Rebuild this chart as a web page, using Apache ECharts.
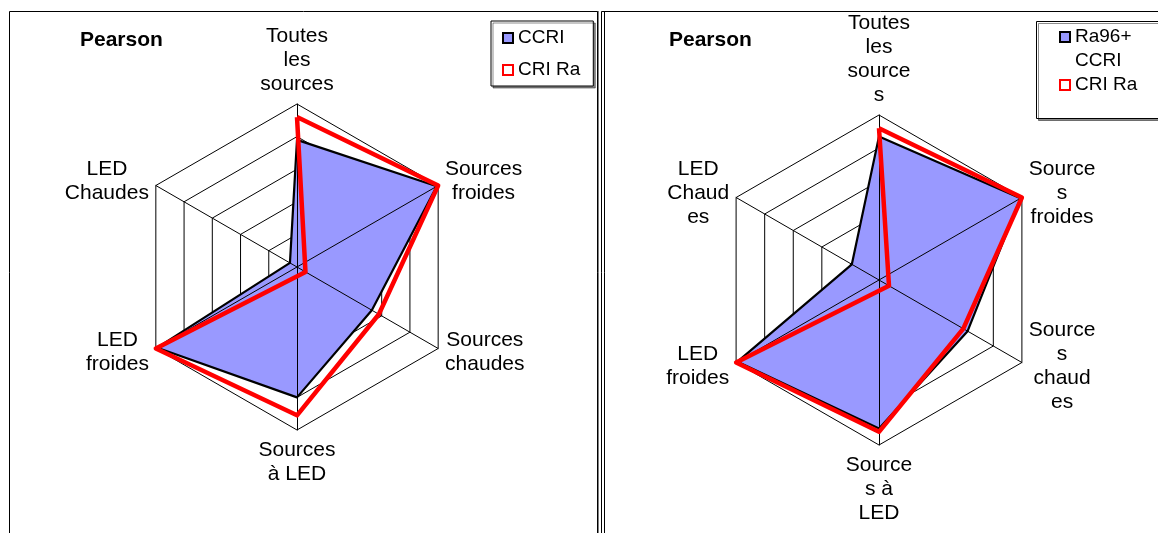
<!DOCTYPE html>
<html>
<head>
<meta charset="utf-8">
<script src="https://cdn.jsdelivr.net/npm/echarts@6/dist/echarts.min.js"></script>
<style>
    html, body { margin: 0; padding: 0; background: #fff; }
    #chart { width: 1158px; height: 533px; }
</style>
</head>
<body>
<div id="chart"></div>
<script>
// axes listed counter-clockwise from the top (echarts radar order)
const axes_left = ['Toutes\nles\nsources', 'LED\nChaudes', 'LED\nfroides', 'Sources\nà LED', 'Sources\nchaudes', 'Sources\nfroides']
const axes_right = ['Toutes\nles\nsource\ns', 'LED\nChaud\nes', 'LED\nfroides', 'Source\ns à\nLED', 'Source\ns\nchaud\nes', 'Source\ns\nfroides']

const ccri_left = [0.78, 0.05, 0.99, 0.80, 0.53, 0.99]
const cri_ra_left = [0.92, -0.06, 1.0, 0.91, 0.58, 1.0]
const ccri_right = [0.87, 0.19, 0.99, 0.90, 0.62, 0.99]
const cri_ra_right = [0.92, -0.07, 1.0, 0.92, 0.59, 1.0]

const axis_min = 0
const axis_max = 1
const ring_count = 5

const FONT = 'Liberation Sans, Arial, sans-serif'

function makeRadar(names, center, radius, spokesOnly) {
    return {
        center: center,
        radius: radius,
        startAngle: 90,
        shape: 'polygon',
        splitNumber: ring_count,
        z: spokesOnly ? 3 : 0,
        indicator: names.map(n => ({name: n, min: axis_min, max: axis_max})),
        axisName: {
            show: !spokesOnly,
            color: '#000',
            fontFamily: FONT,
            fontSize: 21,
            lineHeight: 24,
            formatter: (name) => name.split('\n').map(s => '{c|' + s + '}').join('\n'),
            rich: {c: {align: 'center', color: '#000', fontFamily: FONT, fontSize: 21, lineHeight: 24}}
        },
        nameGap: 8,
        axisLine: {show: spokesOnly, lineStyle: {color: '#000', width: 1}},
        splitLine: {show: !spokesOnly, lineStyle: {color: '#000', width: 1}},
        splitArea: {show: false},
        axisTick: {show: false},
        axisLabel: {show: false}
    }
}

// blue area, under the spokes
function fillSeries(name, values, radarIndex) {
    return {
        type: 'radar', radarIndex: radarIndex, z: 2, symbol: 'none', silent: true,
        lineStyle: {width: 0, color: '#9999FF'},
        areaStyle: {color: '#9999FF', opacity: 1},
        itemStyle: {color: '#9999FF'},
        data: [{name: name, value: values}]
    }
}

// black outline of the same values, above the spokes
function outlineSeries(name, values, radarIndex) {
    return {
        type: 'radar', radarIndex: radarIndex, z: 4, symbol: 'none', silent: true,
        lineStyle: {color: '#000', width: 2.2},
        itemStyle: {color: '#000'},
        data: [{name: name, value: values}]
    }
}

function redSeries(name, values, radarIndex) {
    return {
        type: 'radar', radarIndex: radarIndex, z: 5, symbol: 'none', silent: true,
        lineStyle: {color: '#FF0000', width: 4.5},
        itemStyle: {color: '#FF0000'},
        data: [{name: name, value: values}]
    }
}

const blueIcon = {color: '#9999FF', borderColor: '#000', borderWidth: 2}
const redIcon = {color: '#fff', borderColor: '#FF0000', borderWidth: 2}

const chart = echarts.init(document.getElementById('chart'))

const option = {
    animation: false,
    backgroundColor: '#fff',
    title: [
        {text: 'Pearson', left: 80, top: 28, padding: 0,
         textStyle: {fontFamily: FONT, fontSize: 21, fontWeight: 'bold', lineHeight: 24, color: '#000'}},
        {text: 'Pearson', left: 669, top: 28, padding: 0,
         textStyle: {fontFamily: FONT, fontSize: 21, fontWeight: 'bold', lineHeight: 24, color: '#000'}}
    ],
    legend: [
        {
            orient: 'vertical', left: 491, top: 21, padding: [6, 13, 5, 11],
            itemGap: 10, itemWidth: 10, itemHeight: 10, selectedMode: false,
            backgroundColor: '#fff', borderColor: '#000', borderWidth: 1,
            shadowColor: 'rgba(0,0,0,0.45)', shadowOffsetX: 2, shadowOffsetY: 2, shadowBlur: 0,
            textStyle: {fontFamily: FONT, fontSize: 19, lineHeight: 22, color: '#000'},
            data: [
                {name: 'CCRI', icon: 'rect', itemStyle: blueIcon},
                {name: 'CRI Ra', icon: 'rect', itemStyle: redIcon}
            ]
        },
        {
            // a blank first line keeps the marker level with "Ra96+"
            orient: 'vertical', left: 1059, top: 1, padding: 0, z: 5,
            itemGap: 0, itemWidth: 10, itemHeight: 10, selectedMode: false,
            textStyle: {
                fontFamily: FONT, fontSize: 19, lineHeight: 24, color: '#000',
                rich: {
                    s: {fontSize: 19, lineHeight: 24},
                    t: {fontFamily: FONT, fontSize: 19, lineHeight: 24, color: '#000'}
                }
            },
            formatter: (name) => name.indexOf('\n') >= 0
                ? '{s| }\n' + name.split('\n').map(s => '{t|' + s + '}').join('\n')
                : '{t|' + name + '}',
            data: [
                {name: 'Ra96+\nCCRI', icon: 'rect', itemStyle: blueIcon},
                {name: 'CRI Ra', icon: 'rect', itemStyle: redIcon}
            ]
        }
    ],
    radar: [
        makeRadar(axes_left, [297, 267], 163, false),
        makeRadar(axes_left, [297, 267], 163, true),
        makeRadar(axes_right, [879, 280], 165, false),
        makeRadar(axes_right, [879, 280], 165, true)
    ],
    series: [
        fillSeries('CCRI', ccri_left, 0),
        outlineSeries('CCRI', ccri_left, 0),
        redSeries('CRI Ra', cri_ra_left, 0),
        fillSeries('Ra96+\nCCRI', ccri_right, 2),
        outlineSeries('Ra96+\nCCRI', ccri_right, 2),
        redSeries('CRI Ra', cri_ra_right, 2)
    ],
    graphic: [
        // panel frames
        {type: 'polyline', z: 0, silent: true, shape: {points: [[9.5, 540], [9.5, 11.5], [597.5, 11.5], [597.5, 540]]},
         style: {stroke: '#000', lineWidth: 1, fill: null}},
        {type: 'line', z: 0, silent: true, shape: {x1: 598, y1: 11, x2: 598, y2: 540}, style: {stroke: '#000', lineWidth: 1}},
        {type: 'polyline', z: 0, silent: true, shape: {points: [[601.5, 540], [601.5, 11.5], [1170, 11.5]]},
         style: {stroke: '#000', lineWidth: 1, fill: null}},
        {type: 'line', z: 0, silent: true, shape: {x1: 604.5, y1: 11.5, x2: 604.5, y2: 540}, style: {stroke: '#000', lineWidth: 1}},
        // right legend frame
        {type: 'rect', z: 1, silent: true, shape: {x: 1036.5, y: 21.5, width: 140, height: 97},
         style: {fill: '#fff', stroke: '#000', lineWidth: 1,
                 shadowColor: 'rgba(0,0,0,0.45)', shadowOffsetX: 2, shadowOffsetY: 2, shadowBlur: 0}}
    ]
}

chart.setOption(option)
</script>
</body>
</html>
